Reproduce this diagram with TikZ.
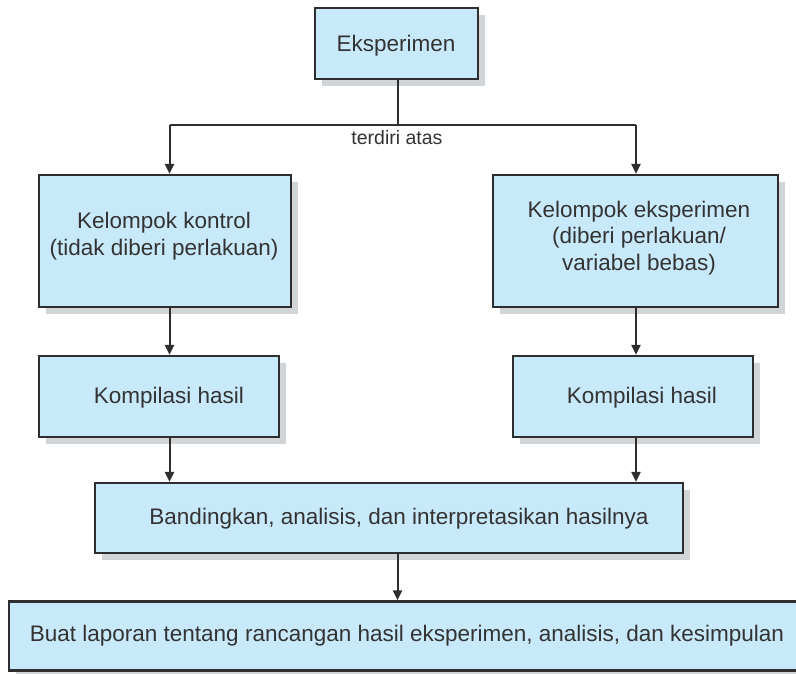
\documentclass[tikz,border=0pt]{standalone}
\usepackage{fontspec}
\setmainfont{Liberation Sans}
\usetikzlibrary{arrows.meta,shadows,calc}
\definecolor{boxfill}{HTML}{C8E9FA}
\definecolor{boxline}{HTML}{2E2E2E}
\definecolor{shade}{HTML}{D2D5D7}
\definecolor{ink}{HTML}{333333}
\tikzset{
  box/.style={draw=boxline, line width=2.2pt, fill=boxfill, inner sep=0pt,
    drop shadow={shadow xshift=7pt, shadow yshift=-7pt, fill=shade, opacity=1}},
  label/.style={text=ink, font=\fontsize{22.5}{26.5}\selectfont, align=center, inner sep=0pt},
  small/.style={text=ink, font=\fontsize{19.5}{22}\selectfont, inner sep=0pt},
  link/.style={draw=boxline, line width=2pt},
  arrow/.style={link, -{Triangle[width=9pt,length=10pt]}}
}
\begin{document}
\begin{tikzpicture}[x=1pt,y=-1pt]
\useasboundingbox (0,0) rectangle (796,673);

% boxes
\node[box, minimum width=163pt, minimum height=71pt] (eks) at (396.5,43.5) {};
\node[box, minimum width=252pt, minimum height=132pt] (kk) at (165,241) {};
\node[box, minimum width=285pt, minimum height=132pt] (ke) at (635.5,241) {};
\node[box, minimum width=240pt, minimum height=81pt] (kl) at (159,396.5) {};
\node[box, minimum width=240pt, minimum height=81pt] (kr) at (633,396.5) {};
\node[box, minimum width=588pt, minimum height=70pt] (band) at (389,518) {};
\node[box, minimum width=792pt, minimum height=69pt] (fin) at (405,636) {};

% texts
\node[label] (teks) at (396,46) {Eksperimen};
\node[label] (tkk) at (164,236) {Kelompok kontrol\\(tidak diberi perlakuan)};
\node[label] (tke) at (639,238) {Kelompok eksperimen\\(diberi perlakuan/\\variabel bebas)};
\node[label] (tkl) at (169,398) {Kompilasi hasil};
\node[label] (tkr) at (642,398) {Kompilasi hasil};
\node[label] (tband) at (399,519) {Bandingkan, analisis, dan interpretasikan hasilnya};
\node[label] (tfin) at (407,636) {Buat laporan tentang rancangan hasil eksperimen, analisis, dan kesimpulan};
\node[small] (tatas) at (397,138) {terdiri atas};

% connectors
\coordinate (split) at (397.5,125);
\coordinate (jl) at (169.5,125);
\coordinate (jr) at (636,125);
\draw[link] (split |- eks.south) -- (split);
\draw[link] (jl) -- (jr);
\draw[arrow] (jl) -- (jl |- kk.north);
\draw[arrow] (jr) -- (jr |- ke.north);
\draw[arrow] (jl |- kk.south) -- (jl |- kl.north);
\draw[arrow] (jr |- ke.south) -- (jr |- kr.north);
\draw[arrow] (jl |- kl.south) -- (jl |- band.north);
\draw[arrow] (jr |- kr.south) -- (jr |- band.north);
\draw[arrow] (split |- band.south) -- (split |- fin.north);
\end{tikzpicture}
\end{document}
